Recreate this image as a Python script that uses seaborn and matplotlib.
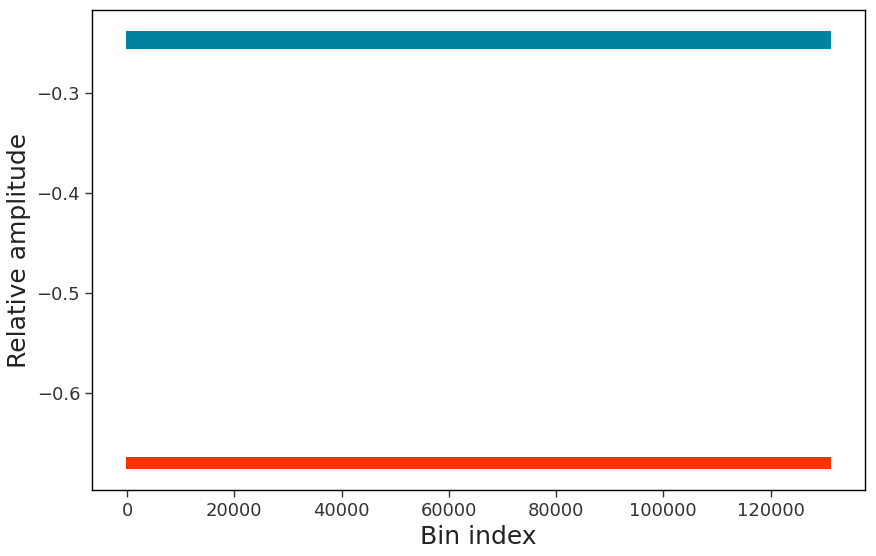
import numpy as np
import pandas as pd
import matplotlib
matplotlib.use("Agg")
import matplotlib.pyplot as plt
import seaborn as sns

# number of spectral bins (x axis runs 0 .. 131071)
n_bins = 131072

# amplitude levels: each band is densely filled
teal_levels = [-0.239, -0.240, -0.241, -0.242, -0.243, -0.244, -0.245, -0.246, -0.247,
               -0.248, -0.249, -0.250, -0.251, -0.252, -0.253, -0.254, -0.255]
red_levels = [-0.665, -0.666, -0.667, -0.668, -0.669, -0.670, -0.671, -0.672,
              -0.673, -0.674, -0.675]

series_names = ["upper", "lower"]
series_colors = {"upper": "#00839E", "lower": "#F53300"}


def build_frame():
    bins = np.arange(n_bins)
    frames = []
    for name, levels in zip(series_names, [teal_levels, red_levels]):
        vals = np.resize(np.array(levels), n_bins)
        frames.append(pd.DataFrame({"bin": bins, "amp": vals, "series": name}))
    return pd.concat(frames, ignore_index=True)


def main():
    sns.set_style("ticks")
    plt.rcParams["font.family"] = ["DejaVu Sans"]

    df = build_frame()

    fig = plt.figure(figsize=(8.76, 5.56), dpi=100)
    ax = fig.add_axes([0.105, 0.1187, 0.8825, 0.8633])

    sns.scatterplot(
        data=df, x="bin", y="amp", hue="series", palette=series_colors,
        marker="s", s=2, linewidth=0, legend=False, ax=ax, rasterized=True,
    )

    ax.set_xlabel("Bin index", fontsize=18, color="#222222")
    ax.set_ylabel("Relative amplitude", fontsize=18, color="#222222")
    ax.set_xticks([0, 20000, 40000, 60000, 80000, 100000, 120000])
    ax.set_yticks([-0.3, -0.4, -0.5, -0.6])
    ax.tick_params(labelsize=13, colors="#333333", length=5, width=1)
    for sp in ax.spines.values():
        sp.set_visible(True)
        sp.set_color("black")
        sp.set_linewidth(1)

    fig.savefig("out.png", dpi=100)
    plt.close(fig)


if __name__ == "__main__":
    main()
